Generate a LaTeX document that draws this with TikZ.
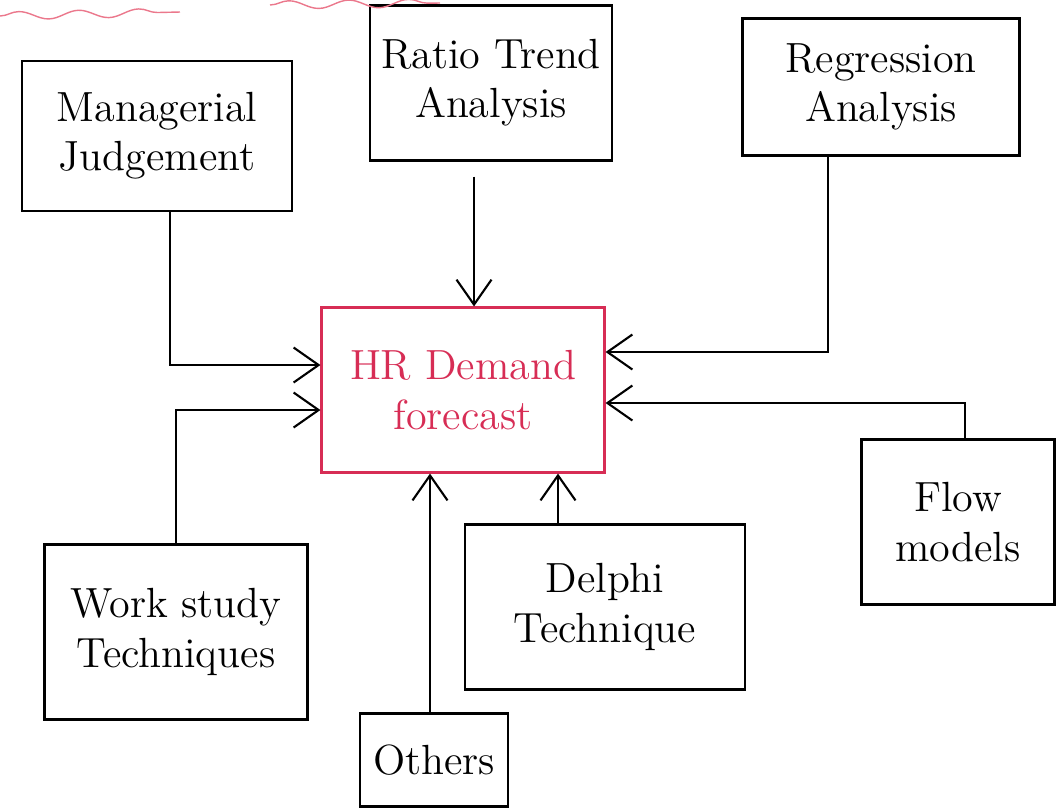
\documentclass[tikz,border=0pt]{standalone}
\usepackage{amsmath}
\usepackage{tikz}
\usetikzlibrary{arrows.meta}
\usetikzlibrary{decorations.pathmorphing}
\definecolor{hrred}{RGB}{215, 45, 85}
\definecolor{wavered}{RGB}{235, 120, 140}

\begin{document}
\begin{tikzpicture}[
			box/.style = {draw, semithick, align = center, font = \large, inner sep = 2pt},
			arr/.style = {semithick, -{Straight Barb[length = 2.5mm, width = 3.5mm]}}]
			\useasboundingbox (0,0) rectangle (10.62,-8.07);
			\node (mj) at (1.57,-1.36) [box, minimum width = 2.7cm, minimum height = 1.5cm] {Managerial\\ Judgement};
			\node (rt) at (4.91,-0.83) [box, minimum width = 2.42cm, minimum height = 1.55cm] {Ratio Trend\\ Analysis};
			\node (ra) at (8.81,-0.87) [box, minimum width = 2.77cm, minimum height = 1.37cm] {Regression\\ Analysis};
			\node (hr) at (4.63,-3.9) [box, draw = hrred, text = hrred, minimum width = 2.83cm, minimum height = 1.65cm] {HR Demand\\ forecast};
			\node (ws) at (1.76,-6.32) [box, minimum width = 2.63cm, minimum height = 1.75cm] {Work study\\ Techniques};
			\node (dt) at (6.05,-6.07) [box, minimum width = 2.8cm, minimum height = 1.65cm] {Delphi\\ Technique};
			\node (fm) at (9.58,-5.22) [box, minimum width = 1.93cm, minimum height = 1.65cm] {Flow\\ models};
			\node (ot) at (4.34,-7.6) [box, minimum width = 1.48cm, minimum height = 0.93cm] {Others};
			% connectors into the forecast box
			\draw[arr] ([xshift = 1.3mm]mj.south) |- ([yshift = 2.5mm]hr.west);
			\draw[arr] ([xshift = -1.7mm, yshift = -1.5mm]rt.south) -- ([xshift = -1.7mm]rt.south |- hr.north);
			\draw[arr] ([xshift = -5.3mm]ra.south) |- ([yshift = 3.8mm]hr.east);
			\draw[arr] ([xshift = 0.7mm]fm.north) |- ([yshift = -1.3mm]hr.east);
			\draw[arr] (ws.north) |- ([yshift = -2mm]hr.west);
			\draw[arr] ([xshift = -4.7mm]dt.north) -- ([xshift = -4.7mm]dt.north |- hr.south);
			\draw[arr] ([xshift = -0.4mm]ot.north) -- ([xshift = -0.4mm]ot.north |- hr.south);
			% underline fragments at the top
			\draw[wavered, decorate, decoration = {snake, amplitude = 0.4mm, segment length = 6mm}] (0,-0.16) -- (1.8,-0.12);
			\draw[wavered, decoration = {snake, amplitude = 0.4mm, segment length = 6mm}, decorate] (2.7,-0.05) -- (4.4,-0.03);
			\end{tikzpicture}
\end{document}
